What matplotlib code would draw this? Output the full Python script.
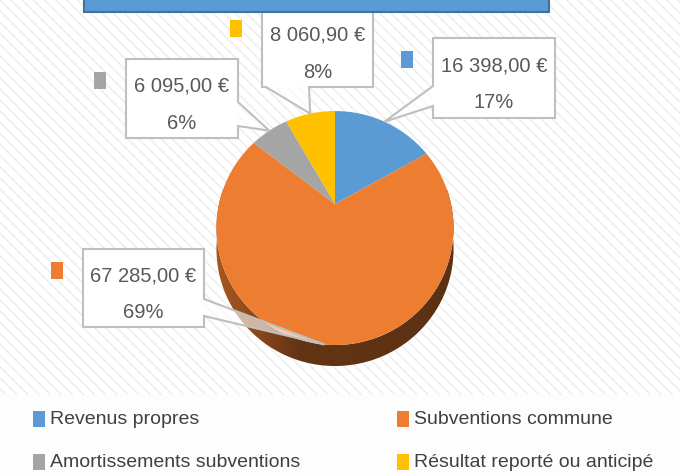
import matplotlib
matplotlib.use('Agg')

import numpy as np
import matplotlib.pyplot as plt
from matplotlib import font_manager
from matplotlib.patches import Rectangle, Polygon

categories = ['Revenus propres', 'Subventions commune',
              'Amortissements subventions', 'Résultat reporté ou anticipé']
amounts = [16398.00, 67285.00, 6095.00, 8060.90]
colors = ['#5b9bd5', '#ed7d31', '#a5a5a5', '#ffc000']

# callout boxes in pixels (x0, x1, y0, y1) and where the tail leaves the box
boxes = [(433, 555, 39, 119), (83, 204, 250, 328), (126, 238, 60, 139), (262, 373, 8, 88)]
tails = [('left', 87, 107), ('right', 300, 317), ('right', 103, 127), ('bottom', 266, 309)]

# narrow font if there is one, otherwise Arial-like and a bit smaller
installed = {f.name for f in font_manager.fontManager.ttflist}
if 'Liberation Sans Narrow' in installed:
    font, label_size, legend_size = 'Liberation Sans Narrow', 17, 16
else:
    font, label_size, legend_size = 'Liberation Sans', 14.5, 14
plt.rcParams['font.family'] = [font, 'DejaVu Sans']
plt.rcParams['hatch.linewidth'] = 1.2

# fake 3d look: tilted disc seen in perspective
CX, CY, RX, RY = 335, 205, 116, 116
TILT = np.radians(15)
CAM = 1.26
DEPTH = 21


def warp(px, py):
    f = CAM / (CAM + py * np.sin(TILT))
    return CX + RX * px * f, CY - RY * py * np.cos(TILT) * f


def euro(v):
    return f"{v:,.2f}".replace(',', ' ').replace('.', ',') + ' €'


fig = plt.figure(figsize=(6.8, 4.77), dpi=100)
ax = fig.add_axes([0, 0, 1, 1])

wedges, _ = ax.pie(amounts, colors=colors, startangle=90, counterclock=False)
ax.set_aspect('auto')

# background with faint diagonal stripes
ax.add_patch(Rectangle((0, 0), 680, 396, facecolor='white', edgecolor='#efefef',
                       hatch='\\\\\\', lw=0, zorder=0))
ax.add_patch(Rectangle((0, 396), 680, 90, facecolor='#fdfdfd', edgecolor='none', zorder=0))

# side of the pie (only the orange part shows)
th = np.radians(np.linspace(170, 370, 200))
sx, sy = warp(np.cos(th), np.sin(th))
side_xy = np.concatenate([np.column_stack([sx, sy]), np.column_stack([sx, sy + DEPTH])[::-1]])
side = Polygon(side_xy, closed=True, facecolor='none', edgecolor='none', zorder=2)
ax.add_patch(side)
stops_x = [215, 255, 300, 456]
stops_c = np.array([[0xa8, 0x58, 0x20], [0x8c, 0x48, 0x1a], [0x62, 0x34, 0x14], [0x5c, 0x31, 0x13]]) / 255
gx = np.linspace(215, 456, 256)
grad = np.stack([np.interp(gx, stops_x, stops_c[:, k]) for k in range(3)], axis=-1)[None, :, :]
im = ax.imshow(grad, extent=[215, 456, 375, 190], aspect='auto', zorder=2, interpolation='bilinear')
im.set_clip_path(side)

# top face
for w in wedges:
    t = np.radians(np.linspace(w.theta1, w.theta2, 150))
    X, Y = warp(np.concatenate([[0], np.cos(t)]), np.concatenate([[0], np.sin(t)]))
    ax.add_patch(Polygon(np.column_stack([X, Y]), closed=True, facecolor=w.get_facecolor(),
                         edgecolor='none', zorder=3))
    w.remove()

total = sum(amounts)
for i, w in enumerate(wedges):
    mid = np.radians((w.theta1 + w.theta2) / 2)
    tip = warp(np.cos(mid), np.sin(mid))
    x0, x1, y0, y1 = boxes[i]
    where, b0, b1 = tails[i]
    verts = [(x0, y0), (x1, y0)]
    if where == 'right':
        verts += [(x1, b0), tip, (x1, b1)]
    verts += [(x1, y1)]
    if where == 'bottom':
        verts += [(b1, y1), tip, (b0, y1)]
    verts += [(x0, y1)]
    if where == 'left':
        verts += [(x0, b1), tip, (x0, b0)]
    ax.add_patch(Polygon(verts, facecolor='white', alpha=0.6, edgecolor='none', zorder=5))
    ax.add_patch(Rectangle((x0, y0), x1 - x0, y1 - y0, facecolor='white', edgecolor='none', zorder=5))
    ax.add_patch(Polygon(verts, facecolor='none', edgecolor='#bfbfbf', lw=1.5, zorder=6))

    cx = (x0 + x1) / 2
    cy = (y0 + y1) / 2
    ax.text(cx, cy - 13, euro(amounts[i]), ha='center', va='center', fontsize=label_size,
            color='#595959', zorder=7)
    ax.text(cx, cy + 24, f"{round(amounts[i] / total * 100)}%", ha='center', va='center',
            fontsize=label_size, color='#595959', zorder=7)
    ax.add_patch(Rectangle((x0 - 32, y0 + 13), 12, 17, facecolor=colors[i], edgecolor='none', zorder=7))

# legend
leg_pos = [(33, 420), (397, 420), (33, 463), (397, 463)]
for (lx, ly), lab, col in zip(leg_pos, categories, colors):
    ax.add_patch(Rectangle((lx, ly - 8), 12, 16, facecolor=col, edgecolor='none', zorder=7))
    ax.text(lx + 17, ly, lab, ha='left', va='center', fontsize=legend_size, color='#404040', zorder=7)

# title bar (cut off at the top)
ax.add_patch(Rectangle((84, -10), 465, 23, facecolor='#5b9bd5', edgecolor='#41719c', lw=1.5, zorder=8))

ax.set_xlim(0, 680)
ax.set_ylim(477, 0)
ax.axis('off')

fig.savefig('out.png', dpi=100, facecolor='white')
